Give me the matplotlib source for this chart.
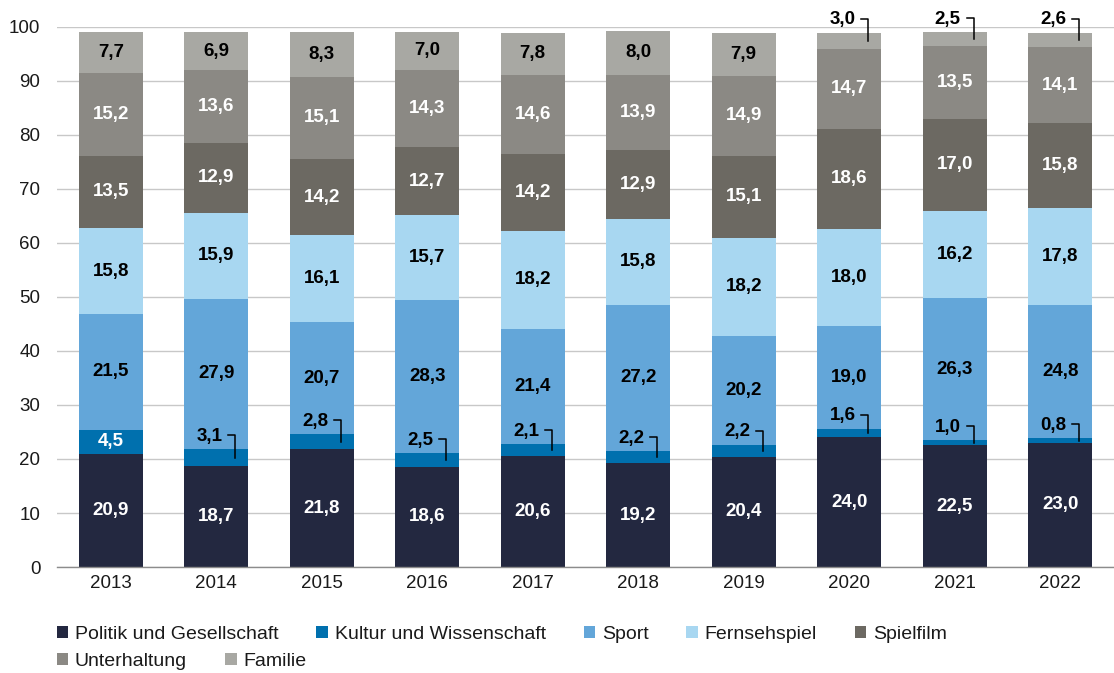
import matplotlib.pyplot as plt
from matplotlib.patches import Patch
import numpy as np

plt.rcParams['font.family'] = ['Liberation Sans', 'DejaVu Sans']

years = ['2013', '2014', '2015', '2016', '2017', '2018', '2019', '2020', '2021', '2022']

politik = [20.9, 18.7, 21.8, 18.6, 20.6, 19.2, 20.4, 24.0, 22.5, 23.0]
kultur = [4.5, 3.1, 2.8, 2.5, 2.1, 2.2, 2.2, 1.6, 1.0, 0.8]
sport = [21.5, 27.9, 20.7, 28.3, 21.4, 27.2, 20.2, 19.0, 26.3, 24.8]
fernsehspiel = [15.8, 15.9, 16.1, 15.7, 18.2, 15.8, 18.2, 18.0, 16.2, 17.8]
spielfilm = [13.5, 12.9, 14.2, 12.7, 14.2, 12.9, 15.1, 18.6, 17.0, 15.8]
unterhaltung = [15.2, 13.6, 15.1, 14.3, 14.6, 13.9, 14.9, 14.7, 13.5, 14.1]
familie = [7.7, 6.9, 8.3, 7.0, 7.8, 8.0, 7.9, 3.0, 2.5, 2.6]

series = [
    ('Politik und Gesellschaft', politik, '#232840', 'white'),
    ('Kultur und Wissenschaft', kultur, '#0070ae', 'white'),
    ('Sport', sport, '#63a6d9', 'black'),
    ('Fernsehspiel', fernsehspiel, '#a8d7f1', 'black'),
    ('Spielfilm', spielfilm, '#6c6962', 'white'),
    ('Unterhaltung', unterhaltung, '#8b8984', 'white'),
    ('Familie', familie, '#a8a8a3', 'black'),
]

FS = 13.5

fig = plt.figure(figsize=(11.14, 6.73), dpi=100)
ax = fig.add_axes([0.0512, 0.1575, 0.9488, 0.8024])

x = np.arange(len(years))
width = 0.605
bottom = np.zeros(len(years))


def fmt(v):
    return f'{v:.1f}'.replace('.', ',')


def callout(xc, top, mid, v):
    # label sits up-left, bracket runs down into the thin segment
    yl = top + 2.4
    ax.text(xc - 0.065, yl, fmt(v), ha='center', va='center', fontsize=FS,
            fontweight='bold', color='black', clip_on=False, zorder=5)
    ax.plot([xc + 0.115, xc + 0.18, xc + 0.18], [yl + 0.2, yl + 0.2, mid],
            color='black', lw=1.1, clip_on=False, zorder=5)


for name, vals, color, tcol in series:
    vals = np.array(vals)
    ax.bar(x, vals, width, bottom=bottom, color=color, zorder=2, label=name)
    for i, v in enumerate(vals):
        mid = bottom[i] + v / 2
        top = bottom[i] + v
        if v < 3.5:
            callout(x[i], top, mid, v)
        else:
            ax.text(x[i], mid, fmt(v), ha='center', va='center', fontsize=FS,
                    fontweight='bold', color=tcol, zorder=4)
    bottom += vals

ax.set_xlim(-0.51, len(years) - 0.49)
ax.set_ylim(0, 100)
ax.set_yticks(range(0, 101, 10))
ax.set_xticks(x)
ax.set_xticklabels(years)
ax.tick_params(axis='y', length=0, pad=12, labelsize=FS, labelcolor='#1a1a1a')
ax.tick_params(axis='x', length=0, pad=6, labelsize=FS, labelcolor='#1a1a1a')
ax.yaxis.grid(True, color='#c8c8c8', lw=1, zorder=0)
ax.set_axisbelow(True)
for s in ['top', 'right', 'left']:
    ax.spines[s].set_visible(False)
ax.spines['bottom'].set_color('#8c8c8c')
ax.spines['bottom'].set_linewidth(1)

handles = [Patch(facecolor=c, edgecolor='none', label=n) for n, _, c, _ in series]
leg_kw = dict(frameon=False, fontsize=14, handlelength=0.6, handleheight=0.6,
              handletextpad=0.33, columnspacing=1.95, borderpad=0, borderaxespad=0,
              loc='center left', labelcolor='#1a1a1a')
fig.legend(handles=handles[:5], ncol=5, bbox_to_anchor=(0.051, 0.057), **leg_kw)
fig.legend(handles=handles[5:], ncol=2, bbox_to_anchor=(0.051, 0.017), **leg_kw)

fig.savefig('out.png', dpi=100)
